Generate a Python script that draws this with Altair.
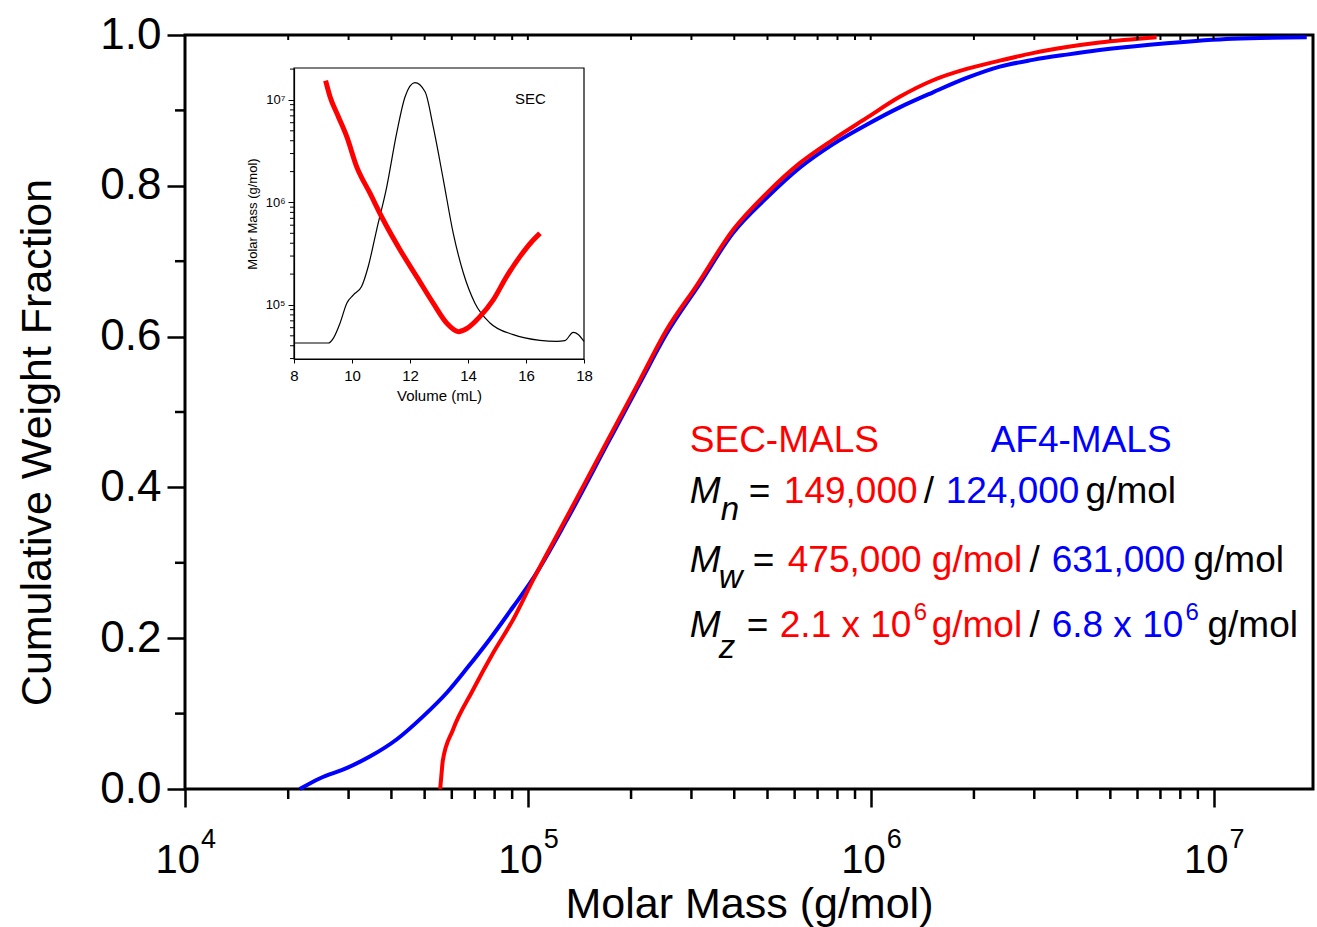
import altair as alt
import pandas as pd

REG = "Liberation Sans, Arial, sans-serif"
RED = "#ff0000"
BLUE = "#0000ff"
W, H = 1128, 754

# ---- main chart data: cumulative weight fraction vs molar mass ----
sec_mass = [5.55e4, 5.6e4, 5.65e4, 6.04e4, 6.91e4, 7.91e4, 9.04e4, 1.035e5, 1.30e5, 1.73e5,
            2.12e5, 2.54e5, 3.11e5, 3.96e5, 4.97e5, 6.21e5, 7.75e5, 9.73e5, 1.215e6, 1.52e6,
            1.905e6, 2.38e6, 2.97e6, 3.73e6, 4.65e6, 6.82e6]
sec_frac = [0.0, 0.02, 0.038, 0.078, 0.131, 0.180, 0.224, 0.277, 0.361, 0.467,
            0.542, 0.609, 0.668, 0.741, 0.790, 0.830, 0.861, 0.890, 0.918, 0.940,
            0.955, 0.966, 0.976, 0.984, 0.990, 0.997]
af4_mass = [2.16e4, 2.47e4, 2.97e4, 3.46e4, 4.15e4, 4.94e4, 5.81e4, 6.64e4, 7.75e4, 9.04e4,
            1.028e5, 1.30e5, 1.73e5, 2.12e5, 2.54e5, 3.17e5, 3.96e5, 4.97e5, 6.21e5, 7.75e5,
            9.73e5, 1.215e6, 1.52e6, 1.905e6, 2.38e6, 2.97e6, 3.73e6, 4.65e6, 6.51e6, 7.30e6,
            1.136e7, 1.87e7]
af4_frac = [0.0, 0.014, 0.028, 0.043, 0.066, 0.096, 0.128, 0.160, 0.199, 0.241,
            0.277, 0.357, 0.463, 0.538, 0.604, 0.670, 0.737, 0.784, 0.824, 0.855,
            0.881, 0.904, 0.924, 0.943, 0.958, 0.967, 0.974, 0.980, 0.987, 0.989,
            0.995, 0.997]

major_x = [1e4, 1e5, 1e6, 1e7]
major_x_exp = ["4", "5", "6", "7"]
minor_x = [k * 10 ** e for e in range(4, 8) for k in range(2, 10) if k * 10 ** e < 1.95e7]
major_y = [0.0, 0.2, 0.4, 0.6, 0.8, 1.0]
minor_y = [0.1, 0.3, 0.5, 0.7, 0.9]

# ---- inset data ----
inset_vol = [9.09, 9.24, 9.53, 9.82, 10.16, 10.62, 11.08, 11.66, 12.23, 12.80, 13.27, 13.67,
             13.96, 14.41, 14.87, 15.33, 15.79, 16.25, 16.48]
inset_mm = [1.54e7, 1.08e7, 6.87e6, 4.38e6, 2.24e6, 1.23e6, 6.74e5, 3.44e5, 1.89e5, 1.04e5,
            6.62e4, 5.49e4, 5.89e4, 7.69e4, 1.12e5, 1.89e5, 2.96e5, 4.3e5, 5.0e5]
ri_vol = [8.0, 9.18, 9.36, 9.59, 9.82, 10.05, 10.33, 10.56, 10.85, 11.20, 11.54, 11.83, 12.17,
          12.52, 12.80, 13.15, 13.49, 13.84, 14.24, 14.76, 15.56, 16.48, 17.06, 17.34, 17.63,
          17.81, 18.0]
ri_sig = [0.0, 0.0, 0.019, 0.077, 0.153, 0.185, 0.217, 0.294, 0.435, 0.601, 0.806, 0.946, 1.0,
          0.965, 0.831, 0.627, 0.422, 0.269, 0.153, 0.077, 0.032, 0.010, 0.006, 0.009, 0.041,
          0.032, 0.006]
inset_major_y = [1e5, 1e6, 1e7]
inset_minor_y = [k * 10 ** e for e in range(4, 8) for k in range(2, 10)
                 if 2.97e4 <= k * 10 ** e <= 2.05e7]
inset_x_ticks = [8, 10, 12, 14, 16, 18]

# ---- annotation text segments (anchor in data units: molar mass, fraction) ----
ann_text = ["SEC-MALS", "AF4-MALS",
            "=", "149,000", "/", "124,000", "g/mol",
            "=", "475,000 g/mol", "/", "631,000", "g/mol",
            "=", "2.1 x 10", "g/mol", "/", "6.8 x 10", "g/mol"]
ann_m = [2.967e5, 2.238e6,
         4.41e5, 5.58e5, 1.427e6, 1.654e6, 4.234e6,
         4.53e5, 5.73e5, 2.907e6, 3.371e6, 8.74e6,
         4.35e5, 5.43e5, 1.506e6, 2.907e6, 3.371e6, 9.60e6]
ann_f = [0.447, 0.447,
         0.379, 0.379, 0.379, 0.379, 0.379,
         0.288, 0.288, 0.288, 0.288, 0.288,
         0.2016, 0.2016, 0.2016, 0.2016, 0.2016, 0.2016]
ann_col = [RED, BLUE,
           "black", RED, "black", BLUE, "black",
           "black", RED, "black", BLUE, "black",
           "black", RED, RED, "black", BLUE, "black"]
sup_text = ["6", "6"]
sup_m = [1.335e6, 8.28e6]
sup_f = [0.224, 0.224]
sup_col = [RED, BLUE]
ital_text = ["M", "n", "M", "w", "M", "z"]
ital_m = [2.967e5, 3.653e5, 2.967e5, 3.605e5, 2.967e5, 3.605e5]
ital_f = [0.379, 0.357, 0.288, 0.267, 0.2016, 0.174]
ital_size = [37, 33, 37, 33, 37, 33]


def mscale():
    return alt.Scale(type="log", domain=[1e4, 1.95e7], nice=False)


def fscale():
    return alt.Scale(domain=[0, 1], nice=False, zero=False)


def vscale():
    return alt.Scale(domain=[8, 18], range=[109, 399], nice=False, zero=False)


def iyscale():
    return alt.Scale(type="log", domain=[2.97e4, 2.05e7], range=[324, 33], nice=False)


xaxis = alt.Axis(orient="bottom", values=major_x, labels=False, tickSize=18, tickWidth=2.5,
                 tickColor="black", domain=False, grid=False, title="Molar Mass (g/mol)",
                 titleFont=REG, titleFontSize=43, titleFontWeight="normal",
                 titleColor="black", titlePadding=75)
yaxis = alt.Axis(orient="left", values=major_y, format=".1f", tickSize=18, tickWidth=2.5,
                 tickColor="black", labelFont=REG, labelFontSize=44, labelColor="black",
                 labelPadding=6, labelFlush=False, labelOverlap=False, domain=False,
                 grid=False, title="Cumulative Weight Fraction", titleFont=REG,
                 titleFontSize=43, titleFontWeight="normal", titleColor="black",
                 titlePadding=40, titleY=407)

sec_df = pd.DataFrame({"M": sec_mass, "F": sec_frac})
af4_df = pd.DataFrame({"M": af4_mass, "F": af4_frac})

sec_line = alt.Chart(sec_df).mark_line(color=RED, strokeWidth=4, interpolate="monotone").encode(
    x=alt.X("M:Q", scale=mscale(), axis=xaxis),
    y=alt.Y("F:Q", scale=fscale(), axis=yaxis),
)
af4_line = alt.Chart(af4_df).mark_line(color=BLUE, strokeWidth=4, interpolate="monotone").encode(
    x=alt.X("M:Q", scale=mscale(), axis=None),
    y=alt.Y("F:Q", scale=fscale(), axis=None),
)

minor_x_rule = alt.Chart(pd.DataFrame({"M": minor_x})).mark_rule(color="black", strokeWidth=2.5).encode(
    x=alt.X("M:Q", scale=mscale(), axis=None), y=alt.value(H), y2=alt.value(H + 10))
top_x_rule = alt.Chart(pd.DataFrame({"M": minor_x + major_x})).mark_rule(color="black", strokeWidth=2).encode(
    x=alt.X("M:Q", scale=mscale(), axis=None), y=alt.value(0), y2=alt.value(5))
minor_y_rule = alt.Chart(pd.DataFrame({"F": minor_y})).mark_rule(color="black", strokeWidth=2.5).encode(
    y=alt.Y("F:Q", scale=fscale(), axis=None), x=alt.value(-10), x2=alt.value(0))

lab_df = pd.DataFrame({"M": major_x, "e": major_x_exp, "b": ["10"] * 4})
x_lab_base = alt.Chart(lab_df).mark_text(font=REG, fontSize=40, align="right", dx=15,
                                         baseline="alphabetic", color="black").encode(
    x=alt.X("M:Q", scale=mscale(), axis=None), y=alt.value(838), text="b:N")
x_lab_exp = alt.Chart(lab_df).mark_text(font=REG, fontSize=27, align="left", dx=16,
                                        baseline="alphabetic", color="black").encode(
    x=alt.X("M:Q", scale=mscale(), axis=None), y=alt.value(813), text="e:N")

ann_df = pd.DataFrame({"M": ann_m, "F": ann_f, "t": ann_text, "c": ann_col})
ann = alt.Chart(ann_df).mark_text(font=REG, fontSize=37, align="left", baseline="alphabetic").encode(
    x=alt.X("M:Q", scale=mscale(), axis=None), y=alt.Y("F:Q", scale=fscale(), axis=None),
    text="t:N", color=alt.Color("c:N", scale=None))
sup_df = pd.DataFrame({"M": sup_m, "F": sup_f, "t": sup_text, "c": sup_col})
sup = alt.Chart(sup_df).mark_text(font=REG, fontSize=24, align="left", baseline="alphabetic").encode(
    x=alt.X("M:Q", scale=mscale(), axis=None), y=alt.Y("F:Q", scale=fscale(), axis=None),
    text="t:N", color=alt.Color("c:N", scale=None))
ital_df = pd.DataFrame({"M": ital_m, "F": ital_f, "t": ital_text, "s": ital_size})
ital = alt.Chart(ital_df).mark_text(font=REG, fontStyle="italic", align="left",
                                    baseline="alphabetic", color="black").encode(
    x=alt.X("M:Q", scale=mscale(), axis=None), y=alt.Y("F:Q", scale=fscale(), axis=None),
    text="t:N", size=alt.Size("s:Q", scale=None))

# ---- inset ----
ixaxis = alt.Axis(orient="bottom", offset=-(H - 324), values=inset_x_ticks, tickSize=4,
                  tickColor="black", labelFont=REG, labelFontSize=15, labelColor="black",
                  labelPadding=5, labelFlush=False, labelOverlap=False, domain=True,
                  domainColor="black", domainWidth=1.2, grid=False, title="Volume (mL)",
                  titleFont=REG, titleFontSize=15, titleFontWeight="normal",
                  titleColor="black", titlePadding=5)
iyaxis = alt.Axis(orient="left", offset=-109, values=inset_major_y, tickSize=6,
                  tickColor="black",
                  labelExpr="datum.value == 100000 ? '10\u2075' : datum.value == 1000000 ? '10\u2076' : '10\u2077'",
                  labelFont=REG, labelFontSize=13, labelColor="black", labelPadding=3,
                  labelFlush=False, labelOverlap=False, domain=True, domainColor="black",
                  domainWidth=1.2, grid=False, title="Molar Mass (g/mol)", titleFont=REG,
                  titleFontSize=13, titleFontWeight="normal", titleColor="black",
                  titlePadding=6)

frame = alt.Chart(pd.DataFrame({"a": [8], "b": [18], "c": [2.97e4], "d": [2.05e7]})).mark_rect(
    fillOpacity=0, stroke="black", strokeWidth=1.2).encode(
    x=alt.X("a:Q", scale=vscale(), axis=None), x2="b:Q",
    y=alt.Y("c:Q", scale=iyscale(), axis=None), y2="d:Q")

inset_red = alt.Chart(pd.DataFrame({"V": inset_vol, "MM": inset_mm})).mark_line(
    color=RED, strokeWidth=5, interpolate="monotone").encode(
    x=alt.X("V:Q", scale=vscale(), axis=ixaxis),
    y=alt.Y("MM:Q", scale=iyscale(), axis=iyaxis))

ri_line = alt.Chart(pd.DataFrame({"V": ri_vol, "S": ri_sig})).mark_line(
    color="black", strokeWidth=1.2, interpolate="monotone").encode(
    x=alt.X("V:Q", scale=vscale(), axis=None),
    y=alt.Y("S:Q", scale=alt.Scale(domain=[0, 1], range=[308, 47.7], nice=False, zero=False), axis=None))

inset_minor = alt.Chart(pd.DataFrame({"MM": inset_minor_y})).mark_rule(color="black", strokeWidth=1).encode(
    y=alt.Y("MM:Q", scale=iyscale(), axis=None), x=alt.value(105), x2=alt.value(109))

sec_label = alt.Chart(pd.DataFrame({"V": [15.62], "MM": [9.15e6], "t": ["SEC"]})).mark_text(
    font=REG, fontSize=15, align="left", baseline="alphabetic", color="black").encode(
    x=alt.X("V:Q", scale=vscale(), axis=None), y=alt.Y("MM:Q", scale=iyscale(), axis=None), text="t:N")

chart = alt.layer(
    af4_line, sec_line, minor_x_rule, top_x_rule, minor_y_rule, x_lab_base, x_lab_exp,
    ann, sup, ital, frame, ri_line, inset_red, inset_minor, sec_label,
).resolve_scale(x="independent", y="independent").properties(
    width=W, height=H,
    background="white",
    autosize=alt.AutoSizeParams(type="none"),
    padding={"left": 185, "top": 35, "right": 4, "bottom": 138},
).configure_view(stroke="black", strokeWidth=3)

chart.save("out.html", embed_options={"renderer": "svg", "actions": False})
